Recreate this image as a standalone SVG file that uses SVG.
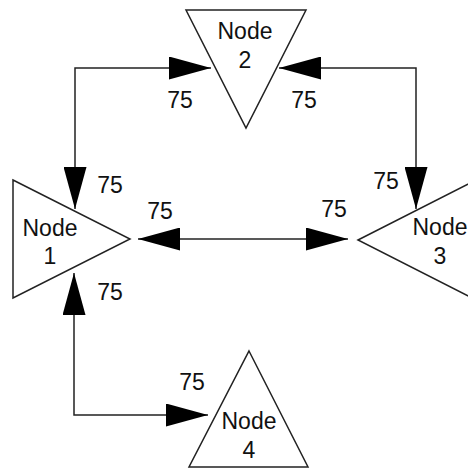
<svg xmlns="http://www.w3.org/2000/svg" width="468" height="470" viewBox="0 0 468 470">
  <defs>
    <marker id="arrow" viewBox="0 0 42 23" refX="42" refY="11.5" markerWidth="42" markerHeight="23" markerUnits="userSpaceOnUse" orient="auto-start-reverse">
      <path d="M0,0 L42,11.5 L0,23 Z" fill="#000"/>
    </marker>
    <style>
      .node { fill: #fff; stroke: #222; stroke-width: 1.5; stroke-linejoin: miter; }
      .edge { fill: none; stroke: #222; stroke-width: 1.5; marker-start: url(#arrow); marker-end: url(#arrow); }
      text { font-family: "Liberation Sans", Arial, sans-serif; font-size: 23px; fill: #111; text-anchor: middle; }
    </style>
  </defs>
  <rect width="468" height="470" fill="#fff"/>

  <!-- connectors -->
  <g id="edges">
    <path class="edge" d="M75,209 V68 H211"/>
    <path class="edge" d="M279,68 H416 V209"/>
    <path class="edge" d="M138,239 H348"/>
    <path class="edge" d="M74,273 V415 H208"/>
  </g>

  <!-- weights -->
  <g id="edge-labels">
    <text x="180" y="108">75</text>
    <text x="304" y="108">75</text>
    <text x="110" y="193">75</text>
    <text x="160" y="219">75</text>
    <text x="386" y="189">75</text>
    <text x="334" y="217">75</text>
    <text x="110" y="300">75</text>
    <text x="192" y="390">75</text>
  </g>

  <g id="node1">
    <polygon class="node" points="13,180 130,239 13,298"/>
    <text x="50" y="236">Node</text>
    <text x="50" y="264">1</text>
  </g>

  <g id="node2">
    <polygon class="node" points="186,10 306,10 246,128"/>
    <text x="245" y="39">Node</text>
    <text x="245" y="68">2</text>
  </g>

  <g id="node3">
    <polygon class="node" points="358,240 476,180 476,300"/>
    <text x="440" y="235">Node</text>
    <text x="440" y="264">3</text>
  </g>

  <g id="node4">
    <polygon class="node" points="249,351 308,467 189,467"/>
    <text x="249" y="429">Node</text>
    <text x="249" y="458">4</text>
  </g>
</svg>
